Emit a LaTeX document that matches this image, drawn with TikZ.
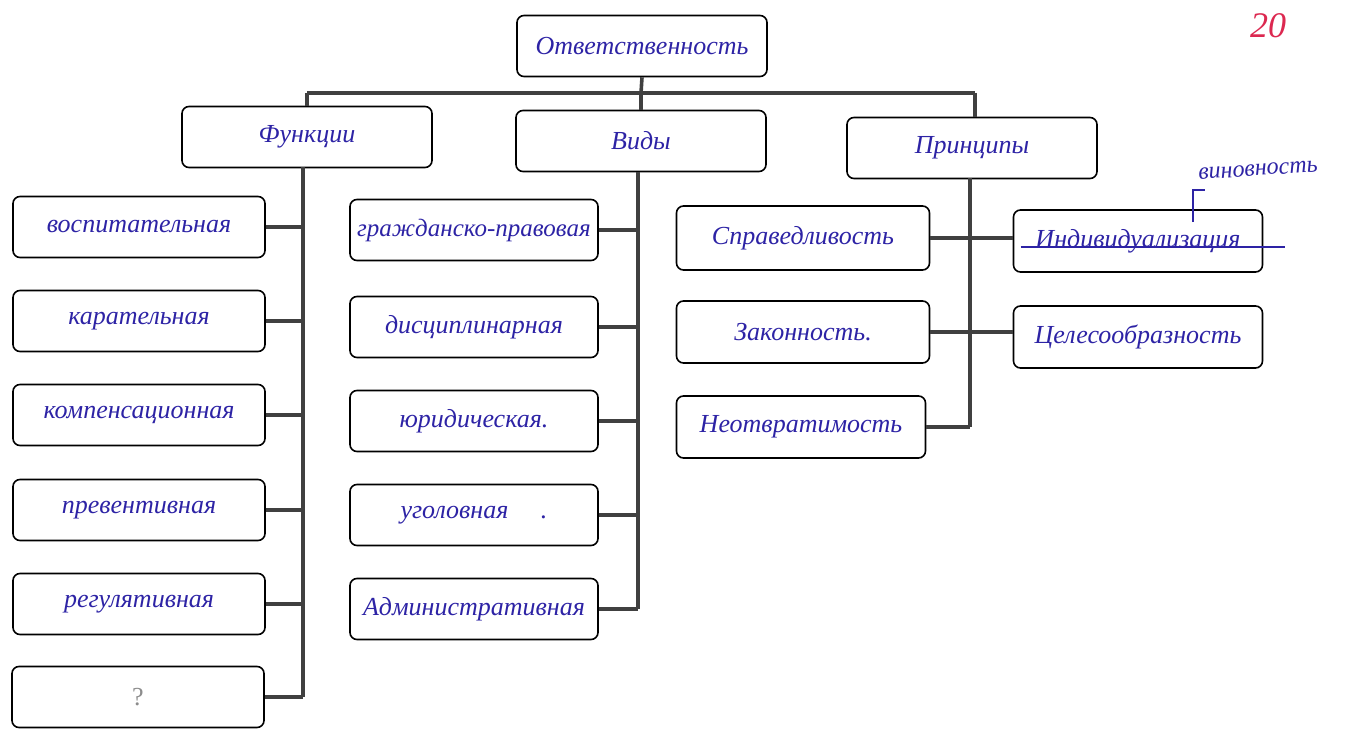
\documentclass[tikz,border=0pt]{standalone}
\usepackage{fontspec}
\setmainfont{Liberation Serif}
\begin{document}
\begin{tikzpicture}[x=1pt,y=-1pt,
  box/.style={draw=black,rounded corners=7pt,line width=1.6pt,minimum width=250pt,minimum height=61pt,inner sep=2pt,
    font=\fontsize{26}{29}\selectfont\itshape,text=ink},
  link/.style={line width=3.6pt,draw=black!75},
  hand/.style={font=\fontsize{24}{26}\selectfont\itshape,text=ink}]
\definecolor{ink}{RGB}{45,35,165}
\definecolor{redink}{RGB}{220,40,80}
\useasboundingbox (0,0) rectangle (1346,730);

% top level
\node[box] (root) at (642,46) {Ответственность};
\node[box] (fun) at (307,137) {Функции};
\node[box] (vid) at (641,141) {Виды};
\node[box] (pri) at (972,148) {Принципы};

\coordinate (busc) at (641,93);
\coordinate (busl) at (307,93);
\coordinate (busr) at (975,93);
\draw[link] (root.south) -- (busc);
\draw[link] (busl) -- (busr);
\draw[link] (busl) -- (fun.north);
\draw[link] (busc) -- (vid.north);
\draw[link] (busr) -- (busr |- pri.north);

% functions
\node[box,minimum width=252pt] (f1) at (139,227) {воспитательная};
\node[box,minimum width=252pt] (f2) at (139,321) {карательная};
\node[box,minimum width=252pt] (f3) at (139,415) {компенсационная};
\node[box,minimum width=252pt] (f4) at (139,510) {превентивная};
\node[box,minimum width=252pt] (f5) at (139,604) {регулятивная};
\node[box,minimum width=252pt] (f6) at (138,697) {\textup{\color{black!45}?}};
\coordinate (ftop) at (303,167);
\coordinate (fbot) at (303,697);
\draw[link] (ftop) -- (fbot);
\foreach \n in {f1,f2,f3,f4,f5,f6} \draw[link] (\n.east) -- (\n.east -| ftop);

% types
\node[box,minimum width=248pt,font=\fontsize{25}{28}\selectfont\itshape] (v1) at (474,230) {гражданско-правовая};
\node[box,minimum width=248pt] (v2) at (474,327) {дисциплинарная};
\node[box,minimum width=248pt] (v3) at (474,421) {юридическая.};
\node[box,minimum width=248pt] (v4) at (474,515) {уголовная\quad\ .};
\node[box,minimum width=248pt] (v5) at (474,609) {Административная};
\coordinate (vtop) at (638,172);
\coordinate (vbot) at (638,609);
\draw[link] (vtop) -- (vbot);
\foreach \n in {v1,v2,v3,v4,v5} \draw[link] (\n.east) -- (\n.east -| vtop);

% principles
\node[box,minimum width=253pt,minimum height=64pt] (p1) at (803,238) {Справедливость};
\node[box,minimum width=253pt,minimum height=62pt] (p2) at (803,332) {Законность.};
\node[box,minimum width=249pt,minimum height=62pt] (p3) at (801,427) {Неотвратимость};
\node[box,minimum width=249pt,minimum height=62pt] (p4) at (1138,241) {Индивидуализация};
\node[box,minimum width=249pt,minimum height=62pt] (p5) at (1138,337) {Целесообразность};
\coordinate (ptop) at (970,178);
\coordinate (pbot) at (970,427);
\draw[link] (ptop) -- (pbot);
\draw[link] (p1.east) -- (p1.east -| p4.west);
\draw[link] (p2.east) -- (p2.east -| p5.west);
\draw[link] (p3.east) -- (p3.east -| ptop);

% correction: struck-out word and inserted word
\draw[ink,line width=1.3pt] ([xshift=8pt,yshift=-6pt]p4.west) -- ([xshift=22pt,yshift=-6pt]p4.east);
\coordinate (ins1) at (1193,222);
\coordinate (ins2) at (1193,190);
\coordinate (ins3) at (1205,190);
\draw[ink,line width=1.2pt] (ins1) -- (ins2) -- (ins3);
\node[hand,rotate=4] (vin) at (1258,170) {виновность};

% page number
\node[font=\fontsize{36}{38}\selectfont\itshape,text=redink] (num) at (1268,26) {20};
\end{tikzpicture}
\end{document}
